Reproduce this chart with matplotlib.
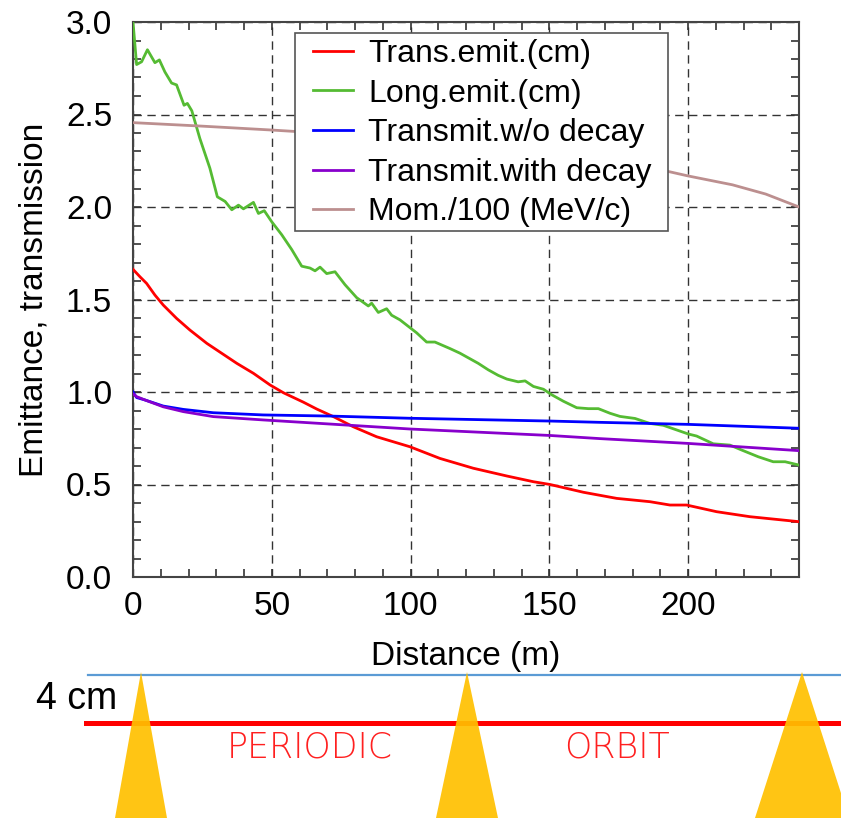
import matplotlib
matplotlib.use("Agg")
import matplotlib.pyplot as plt
from matplotlib.ticker import MultipleLocator
from matplotlib.patches import Polygon, Rectangle

plt.rcParams['font.family'] = ['Liberation Sans', 'DejaVu Sans']

# data
x_trans = [0, 2.5, 4.9, 7.9, 10.9, 15.7, 20.5, 26.6, 32.0, 37.4, 43.4, 49.4, 54.2,
           61.4, 66.2, 72.2, 79.4, 87.8, 99.8, 110.6, 122.6, 134.7, 144.3, 150.3,
           162.3, 174.3, 186.3, 193.5, 199.5, 210.3, 222.3, 240]
y_trans = [1.663, 1.623, 1.587, 1.524, 1.47, 1.398, 1.335, 1.263, 1.209, 1.155, 1.101,
           1.038, 0.996, 0.945, 0.908, 0.867, 0.812, 0.758, 0.704, 0.641, 0.588, 0.546,
           0.515, 0.5, 0.458, 0.425, 0.407, 0.389, 0.389, 0.353, 0.326, 0.299]

x_long = [0, 1.3, 3.1, 5.2, 7.9, 9.5, 11.5, 13.9, 15.7, 18.4, 19.6, 21.2, 24.1, 27.7,
          30.4, 33.2, 35.6, 38.0, 39.8, 43.4, 45.2, 47.3, 50.0, 53.6, 57.2, 60.8, 63.8,
          65.6, 67.4, 69.8, 72.8, 76.4, 80.6, 84.8, 86.0, 88.4, 91.4, 93.2, 96.2, 99.2,
          102.2, 105.8, 108.8, 114.2, 117.8, 121.4, 124.4, 128.0, 131.6, 134.7, 138.8,
          141.3, 144.3, 147.9, 150.9, 155.1, 159.9, 164.1, 167.7, 171.9, 175.5, 180.9,
          186.3, 191.1, 195.9, 200.1, 203.1, 209.1, 215.1, 219.4, 225.3, 230.7, 235.0, 240.0]
y_long = [3.0, 2.77, 2.785, 2.85, 2.78, 2.795, 2.73, 2.67, 2.66, 2.55, 2.56, 2.52, 2.37,
          2.21, 2.055, 2.03, 1.985, 2.01, 1.99, 2.025, 1.965, 1.98, 1.92, 1.85, 1.77, 1.68,
          1.67, 1.655, 1.675, 1.64, 1.65, 1.58, 1.51, 1.465, 1.48, 1.43, 1.45, 1.415, 1.39,
          1.355, 1.32, 1.27, 1.27, 1.235, 1.21, 1.18, 1.155, 1.12, 1.09, 1.07, 1.055, 1.06,
          1.03, 1.015, 0.985, 0.95, 0.915, 0.91, 0.91, 0.885, 0.868, 0.857, 0.83, 0.82,
          0.795, 0.773, 0.762, 0.72, 0.713, 0.686, 0.65, 0.623, 0.623, 0.605]

x_tr = [0, 1.3, 4.3, 10.9, 18.1, 28.9, 46.9, 70.8, 99.8, 150.3, 168.3, 200.1, 240]
y_tr_nodecay = [1.0, 0.97, 0.957, 0.924, 0.906, 0.888, 0.876, 0.870, 0.858, 0.843,
                0.836, 0.825, 0.804]
y_tr_decay = [0.99, 0.975, 0.957, 0.92, 0.894, 0.867, 0.849, 0.827, 0.80, 0.765,
              0.748, 0.722, 0.683]

x_mom = [0, 25, 50, 75, 100, 125, 150, 175, 193.5, 200, 216, 228, 240]
y_mom = [2.456, 2.437, 2.416, 2.393, 2.366, 2.335, 2.298, 2.25, 2.19, 2.168, 2.12,
         2.07, 2.0]

labels = ['Trans.emit.(cm)', 'Long.emit.(cm)', 'Transmit.w/o decay',
          'Transmit.with decay', 'Mom./100 (MeV/c)']
colors = ['#ff0000', '#55bb33', '#0000ff', '#8800cc', '#bc8f8f']

W, H = 841, 818
fig = plt.figure(figsize=(W / 100, H / 100), dpi=100)
ax = fig.add_axes([133 / W, 1 - 577 / H, 666 / W, 555 / H])

series = [(x_trans, y_trans), (x_long, y_long), (x_tr, y_tr_nodecay),
          (x_tr, y_tr_decay), (x_mom, y_mom)]
for (xs, ys), lab, c in zip(series, labels, colors):
    ax.plot(xs, ys, color=c, lw=2, label=lab, zorder=3)

ax.set_xlim(0, 240)
ax.set_ylim(0, 3.0)
ax.xaxis.set_major_locator(MultipleLocator(50))
ax.xaxis.set_minor_locator(MultipleLocator(10))
ax.yaxis.set_major_locator(MultipleLocator(0.5))
ax.yaxis.set_minor_locator(MultipleLocator(0.1))
ax.yaxis.set_major_formatter(lambda v, p: f'{v:.1f}')
ax.tick_params(which='both', direction='in', top=True, right=True,
               color='#333333', width=1.2, labelsize=24)
ax.tick_params(which='major', length=6)
ax.tick_params(which='minor', length=6)
ax.tick_params(axis='x', which='major', pad=10)
ax.tick_params(axis='y', which='major', pad=15)
ax.grid(True, which='major', ls=(0, (6, 4)), color='#333333', lw=1)
for sp in ax.spines.values():
    sp.set_color('#444444')
    sp.set_linewidth(1.5)
ax.set_xlabel('Distance (m)', fontsize=24, labelpad=14)
ax.set_ylabel('Emittance, transmission', fontsize=24, labelpad=12)

# legend frame drawn separately so the box size matches the original
box = Rectangle((295 / W, 1 - 231 / H), 373 / W, 198 / H, transform=fig.transFigure,
                fc='white', ec='#555555', lw=1.2, zorder=4.5, clip_on=False)
ax.add_patch(box)
leg = ax.legend(loc='upper left', bbox_to_anchor=(313 / W, 1 - 39 / H),
                bbox_transform=fig.transFigure, fontsize=23, frameon=False,
                handlelength=1.25, handletextpad=0.48, labelspacing=0.3,
                borderpad=0, borderaxespad=0)
leg.set_zorder(5)

# schematic of the periodic orbit under the plot
sk = fig.add_axes([0, 0, 1, 1], zorder=-1)
sk.set_xlim(0, W)
sk.set_ylim(H, 0)
sk.axis('off')
sk.plot([88, W], [675, 675], color='#5b9bd5', lw=1.6)
sk.plot([86, W], [723, 723], color='#ff0000', lw=3.6)
tri_apex = [141, 467, 802]
tri_half = [26, 31, 47]
for xa, hw in zip(tri_apex, tri_half):
    sk.add_patch(Polygon([(xa - hw, H), (xa, 672), (xa + hw, H)], closed=True,
                         fc='#ffc000', ec='none', alpha=0.92, zorder=3))
sk.text(77, 699, '4 cm', fontsize=27, ha='center', va='center',
        family=['Liberation Sans Narrow', 'Liberation Sans'])
sk.text(310, 747, 'PERIODIC', fontsize=25, ha='center', va='center',
        color='#ff2020', family=['DejaVu Sans'], fontweight='light')
sk.text(617, 747, 'ORBIT', fontsize=25, ha='center', va='center',
        color='#ff2020', family=['DejaVu Sans'], fontweight='light')

fig.savefig('out.png', dpi=100)
